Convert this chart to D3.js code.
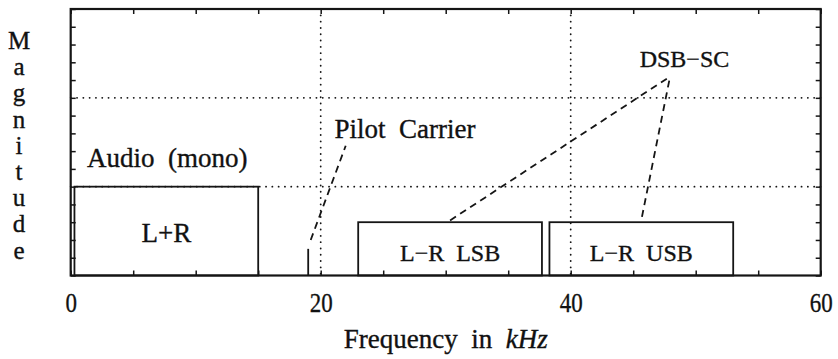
<!DOCTYPE html>
<html>
<head>
<meta charset="utf-8">
<script src="https://cdn.jsdelivr.net/npm/d3@7"></script>
<style>
  body { margin: 0; background: #fff; }
  svg { display: block; }
  text {
    font-family: "Liberation Serif", "Times New Roman", Times, serif;
    fill: #111;
    stroke: #111;
    stroke-width: 0.35px;
    white-space: pre;
  }
</style>
</head>
<body>
<svg id="chart"></svg>
<script>
// Spectrum bands (kHz, magnitude)
const bandNames = ['L+R', 'L\u2212R  LSB', 'L\u2212R  USB'];
const bandStart = [0.3, 23, 38.3];
const bandEnd = [15, 37.7, 53];
const bandHeight = [0.5, 0.3, 0.3];

// Pilot carrier spike
const pilotFreq = 19;
const pilotHeight = 0.15;

// Axis ticks
const xLabelTicks = [0, 20, 40, 60];
const xMinorTicks = [0, 5, 10, 15, 20, 25, 30, 35, 40, 45, 50, 55, 60];
const yMinorTicks = [0, 0.1, 0.2, 0.3, 0.4, 0.5, 0.6, 0.7, 0.8, 0.9, 1.0, 1.1, 1.2, 1.3, 1.4, 1.5];
const gridX = [20, 40];
const gridY = [0.5, 1.0];

// Annotation text
const labelText = ['Audio  (mono)', 'Pilot  Carrier', 'DSB\u2212SC'];
const labelX = [1.3, 21.1, 49.1];
const labelY = [0.61, 0.774, 1.173];
const labelAnchor = ['start', 'start', 'middle'];

// Dashed pointer lines: from (x0,y0) to (x1,y1)
const pointerX0 = [19.2, 30.35, 45.7];
const pointerY0 = [0.2, 0.31, 0.33];
const pointerX1 = [22.0, 47.95, 47.95];
const pointerY1 = [0.73, 1.12, 1.12];

const width = 838;
const height = 359;
const margin = { top: 9, right: 17.3, bottom: 83.5, left: 70.7 };
const chartWidth = width - margin.left - margin.right;
const chartHeight = height - margin.top - margin.bottom;

const svg = d3.select('#chart')
  .attr('width', width)
  .attr('height', height);

const g = svg.append('g')
  .attr('transform', `translate(${margin.left},${margin.top})`);

const x = d3.scaleLinear().domain([0, 60]).range([0, chartWidth]);
const y = d3.scaleLinear().domain([0, 1.5]).range([chartHeight, 0]);

const ink = '#151515';

// Dotted grid
g.selectAll('.grid-x')
  .data(gridX)
  .enter()
  .append('line')
  .attr('x1', d => x(d)).attr('x2', d => x(d))
  .attr('y1', 0).attr('y2', chartHeight)
  .attr('stroke', ink)
  .attr('stroke-width', 1.8)
  .attr('stroke-linecap', 'round')
  .attr('stroke-dasharray', '0.1,6.2');

g.selectAll('.grid-y')
  .data(gridY)
  .enter()
  .append('line')
  .attr('x1', 0).attr('x2', chartWidth)
  .attr('y1', d => y(d)).attr('y2', d => y(d))
  .attr('stroke', ink)
  .attr('stroke-width', 1.8)
  .attr('stroke-linecap', 'round')
  .attr('stroke-dasharray', '0.1,6.2');

// Inward tick marks on all four sides
function styleAxis(sel) {
  sel.select('.domain').remove();
  sel.selectAll('line').attr('stroke', ink).attr('stroke-width', 1.5);
}

const bottomAxis = g.append('g')
  .attr('transform', `translate(0,${chartHeight})`)
  .call(d3.axisBottom(x).tickValues(xMinorTicks).tickSizeInner(-5).tickSizeOuter(0)
    .tickFormat(d => xLabelTicks.includes(d) ? d : ''))
  .call(styleAxis);

bottomAxis.selectAll('text')
  .attr('y', 36.5)
  .attr('dy', 0)
  .attr('transform', 'scale(0.82,1)')
  .style('font-size', '28px');

g.append('g')
  .call(d3.axisTop(x).tickValues(xMinorTicks).tickSizeInner(-5).tickSizeOuter(0).tickFormat(''))
  .call(styleAxis);

g.append('g')
  .call(d3.axisLeft(y).tickValues(yMinorTicks).tickSizeInner(-5).tickSizeOuter(0).tickFormat(''))
  .call(styleAxis);

g.append('g')
  .attr('transform', `translate(${chartWidth},0)`)
  .call(d3.axisRight(y).tickValues(yMinorTicks).tickSizeInner(-5).tickSizeOuter(0).tickFormat(''))
  .call(styleAxis);

// Frame
g.append('rect')
  .attr('x', 0).attr('y', 0)
  .attr('width', chartWidth).attr('height', chartHeight)
  .attr('fill', 'none')
  .attr('stroke', ink)
  .attr('stroke-width', 2.2);

// Band boxes
const bands = bandNames.map((name, i) => ({ name, x0: bandStart[i], x1: bandEnd[i], h: bandHeight[i] }));

g.selectAll('.band')
  .data(bands)
  .enter()
  .append('rect')
  .attr('x', d => x(d.x0))
  .attr('y', d => y(d.h))
  .attr('width', d => x(d.x1) - x(d.x0))
  .attr('height', d => y(0) - y(d.h))
  .attr('fill', 'none')
  .attr('stroke', ink)
  .attr('stroke-width', 1.8);

g.selectAll('.band-label')
  .data(bands)
  .enter()
  .append('text')
  .attr('x', d => x((d.x0 + d.x1) / 2))
  .attr('y', (d, i) => i === 0 ? y(0.19) : y(0.08))
  .attr('text-anchor', 'middle')
  .style('font-size', (d, i) => i === 0 ? '27px' : '24px')
  .text(d => d.name);

// Pilot spike
g.append('line')
  .attr('x1', x(pilotFreq)).attr('x2', x(pilotFreq))
  .attr('y1', y(0)).attr('y2', y(pilotHeight))
  .attr('stroke', ink)
  .attr('stroke-width', 1.8);

// Dashed pointers
g.selectAll('.pointer')
  .data(pointerX0)
  .enter()
  .append('line')
  .attr('x1', (d, i) => x(pointerX0[i]))
  .attr('y1', (d, i) => y(pointerY0[i]))
  .attr('x2', (d, i) => x(pointerX1[i]))
  .attr('y2', (d, i) => y(pointerY1[i]))
  .attr('stroke', ink)
  .attr('stroke-width', 1.8)
  .attr('stroke-dasharray', '7,5');

// Annotation labels
g.selectAll('.note')
  .data(labelText)
  .enter()
  .append('text')
  .attr('x', (d, i) => x(labelX[i]))
  .attr('y', (d, i) => y(labelY[i]))
  .attr('text-anchor', (d, i) => labelAnchor[i])
  .style('font-size', (d, i) => i === 2 ? '24px' : '27px')
  .text(d => d);

// X axis title
const xTitle = svg.append('text')
  .attr('x', margin.left + chartWidth / 2)
  .attr('y', 348)
  .attr('text-anchor', 'middle')
  .style('font-size', '27px');
xTitle.append('tspan').text('Frequency  in  ');
xTitle.append('tspan').style('font-style', 'italic').text('kHz');

// Y axis title, stacked letters
svg.append('g')
  .selectAll('text')
  .data('Magnitude'.split(''))
  .enter()
  .append('text')
  .attr('x', 19)
  .attr('y', (d, i) => 49 + i * 26.2)
  .attr('text-anchor', 'middle')
  .style('font-size', '25px')
  .text(d => d);
</script>
</body>
</html>
